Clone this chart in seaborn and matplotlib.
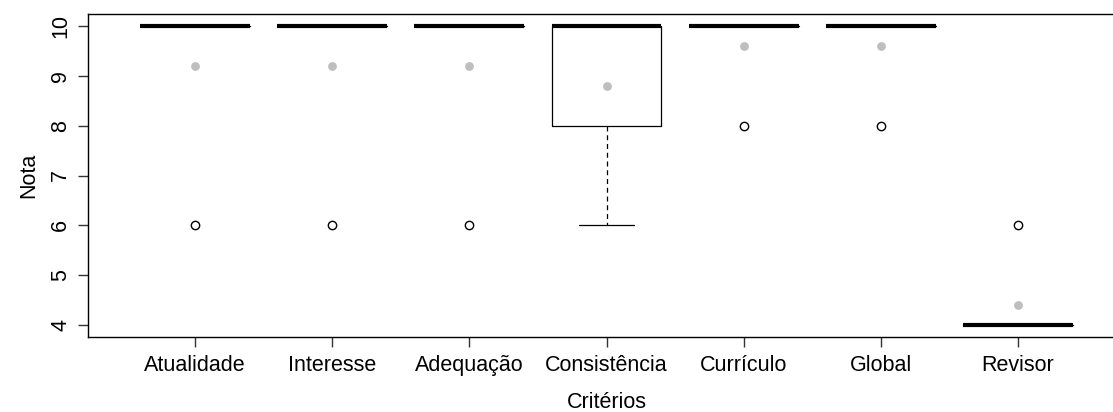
import numpy as np
import pandas as pd
import matplotlib
matplotlib.use("Agg")
import matplotlib.pyplot as plt
import seaborn as sns

categorias = ["Atualidade", "Interesse", "Adequação", "Consistência", "Currículo", "Global", "Revisor"]
atualidade = [10, 10, 10, 10, 6]
interesse = [10, 10, 10, 10, 6]
adequacao = [10, 10, 10, 10, 6]
consistencia = [10, 10, 10, 8, 6]
curriculo = [10, 10, 10, 10, 8]
global_ = [10, 10, 10, 10, 8]
revisor = [4, 4, 4, 4, 6]
series = [atualidade, interesse, adequacao, consistencia, curriculo, global_, revisor]
y_ticks = [4, 5, 6, 7, 8, 9, 10]

rows = []
for cat, vals in zip(categorias, series):
    for v in vals:
        rows.append({"Critérios": cat, "Nota": v})
df = pd.DataFrame(rows)
medias = df.groupby("Critérios", sort=False)["Nota"].mean().reindex(categorias)

sns.set_style("white")
plt.rcParams["font.family"] = ["Liberation Sans", "DejaVu Sans"]

fig = plt.figure(figsize=(11.13, 4.12), dpi=100)
# plot region extends beyond the right edge of the picture (as in the reference)
ax = fig.add_axes([88/1113, 1-337/412, 1037/1113, (337-14)/412])

sns.boxplot(data=df, x="Critérios", y="Nota", order=categorias, ax=ax,
            width=0.8, whis=1.5, fill=False, color="black", linewidth=0.9,
            medianprops=dict(color="black", linewidth=3, solid_capstyle="butt"),
            whiskerprops=dict(color="black", linewidth=0.9, linestyle=(0, (4, 3))),
            capprops=dict(color="black", linewidth=0.9),
            boxprops=dict(color="black", linewidth=0.9),
            flierprops=dict(marker="o", markersize=6, markerfacecolor="white",
                            markeredgecolor="black", markeredgewidth=1),
            capwidths=0.4)

ax.scatter(np.arange(len(categorias)), medias.values, s=40, color="#BEBEBE", zorder=5, linewidths=0)

ax.set_xlim(-0.78, 6.78)
ax.set_ylim(3.76, 10.24)
ax.set_yticks(y_ticks)
ax.set_yticklabels([str(t) for t in y_ticks], rotation=90, va="center")
ax.tick_params(axis="both", which="both", length=7, width=1, color="#333333",
               labelsize=15.5, labelcolor="black", left=True, bottom=True, direction="out")
ax.tick_params(axis="x", pad=6)
ax.tick_params(axis="y", pad=5)
ax.set_xlabel("Critérios", fontsize=15.5, labelpad=11.5, color="black")
ax.set_ylabel("Nota", fontsize=15.5, labelpad=8, color="black")
for s in ax.spines.values():
    s.set_visible(True)
    s.set_color("black")
    s.set_linewidth(1)
ax.grid(False)

fig.savefig("out.png", dpi=100)
